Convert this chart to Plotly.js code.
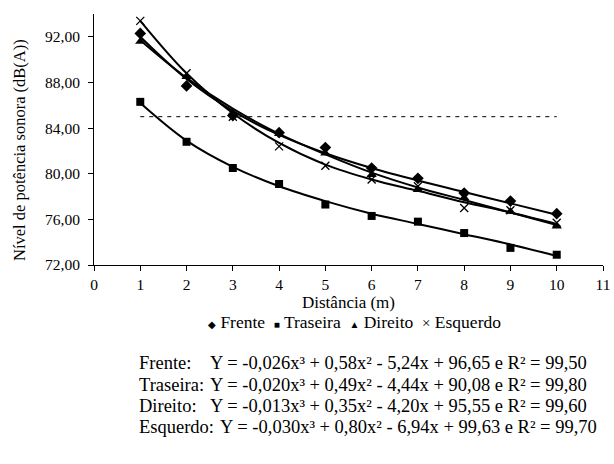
<!DOCTYPE html>
<html>
<head>
<meta charset="utf-8">
<script src="https://cdn.plot.ly/plotly-3.0.1.min.js"></script>
<style>html,body{margin:0;padding:0;background:#fff;}#chart{width:614px;height:464px;}</style>
</head>
<body>
<div id="chart"></div>
<script>
// ---- data ----
const distancia = [1, 2, 3, 4, 5, 6, 7, 8, 9, 10];
const frente   = [92.3, 87.7, 85.1, 83.6, 82.3, 80.5, 79.6, 78.3, 77.6, 76.5];
const traseira = [86.3, 82.8, 80.5, 79.1, 77.3, 76.3, 75.8, 74.8, 73.5, 72.9];
const direito  = [91.6, 88.5, 85.3, 83.5, 81.8, 79.9, 78.6, 77.9, 76.7, 75.4];
const esquerdo = [93.4, 88.8, 85.0, 82.4, 80.7, 79.5, 78.9, 77.0, 76.8, 75.7];
// fitted curves
const frenteAjuste   = [92.0, 88.3, 85.5, 83.4, 81.8, 80.5, 79.4, 78.4, 77.4, 76.4];
const traseiraAjuste = [86.2, 82.9, 80.6, 78.9, 77.6, 76.5, 75.6, 74.7, 73.8, 72.8];
const direitoAjuste  = [91.7, 88.4, 85.7, 83.5, 81.7, 80.1, 78.8, 77.7, 76.6, 75.5];
const esquerdoAjuste = [93.4, 88.8, 85.3, 82.7, 80.8, 79.5, 78.5, 77.5, 76.6, 75.6];
// reference limit line
const limiteX = [1, 10];
const limiteY = [85, 85];

const nomes = ["Frente", "Traseira", "Direito", "Esquerdo"];
const simbolosLegenda = ["◆", "■", "▲", "×"];
const equacoesRotulos = ["Frente:", "Traseira:", "Direito:", "Esquerdo:"];
const equacoes = [
  "Y = -0,026x³ + 0,58x² - 5,24x + 96,65 e R² = 99,50",
  "Y = -0,020x³ + 0,49x² - 4,44x + 90,08 e R² = 99,80",
  "Y = -0,013x³ + 0,35x² - 4,20x + 95,55 e R² = 99,60",
  "Y = -0,030x³ + 0,80x² - 6,94x + 99,63 e R² = 99,70"
];
const tituloX = "Distância (m)";
const tituloY = "Nível de potência sonora (dB(A))";

// ---- styling ----
const FONT = "'Liberation Serif', 'Times New Roman', Times, serif";
const W = 614, H = 464;
const L = 94, R = 11, T = 14, B = 199;
const pw = W - L - R, ph = H - T - B;
const px = v => (v - L) / pw;
const py = v => (H - B - v) / ph;

const obs = [frente, traseira, direito, esquerdo];
const fits = [frenteAjuste, traseiraAjuste, direitoAjuste, esquerdoAjuste];
const symbols = ["diamond", "square", "triangle-up", "x-thin"];
const sizes = [9, 8, 9, 8];

const traces = [];
traces.push({
  x: limiteX, y: limiteY, mode: "lines", showlegend: false, hoverinfo: "skip",
  line: {color: "#000", width: 1, dash: "4px,5px"}
});
fits.forEach((f, i) => {
  traces.push({
    x: distancia, y: f, mode: "lines", showlegend: false, hoverinfo: "skip",
    line: {color: "#000", width: 2, shape: "spline", smoothing: 1}
  });
});
obs.forEach((o, i) => {
  traces.push({
    x: distancia, y: o, mode: "markers", name: nomes[i], showlegend: false,
    marker: {
      symbol: symbols[i], size: sizes[i], color: "#000",
      line: {color: "#000", width: symbols[i] === "x-thin" ? 1.3 : 0}
    }
  });
});

const annotations = [];
// y-axis title
annotations.push({
  xref: "paper", yref: "paper", x: px(19), y: py(150),
  xanchor: "center", yanchor: "middle", showarrow: false, textangle: -90,
  text: tituloY, font: {family: FONT, size: 16.5, color: "#000"}
});
// legend line (symbol glyphs + series names)
const symSize = [10, 10, 10, 15];
const legendText = nomes.map((n, i) =>
  "<span style='font-size:" + symSize[i] + "px'>" + simbolosLegenda[i] + "</span> " + n
).join("&nbsp;&nbsp;");
annotations.push({
  xref: "paper", yref: "paper", x: px(354), y: py(322),
  xanchor: "center", yanchor: "middle", showarrow: false,
  text: legendText, font: {family: FONT, size: 17.5, color: "#000"}
});
const rowsY = [363, 385, 406, 427];
rowsY.forEach((yy, i) => {
  annotations.push({
    xref: "paper", yref: "paper", x: px(137), y: py(yy),
    xanchor: "left", yanchor: "middle", showarrow: false,
    text: equacoesRotulos[i], font: {family: FONT, size: 18.5, color: "#000"}
  });
  annotations.push({
    xref: "paper", yref: "paper", x: px(i === 3 ? 218 : 208), y: py(yy),
    xanchor: "left", yanchor: "middle", showarrow: false,
    text: equacoes[i], font: {family: FONT, size: 18.5, color: "#000"}
  });
});

const layout = {
  width: W, height: H,
  margin: {l: L, r: R, t: T, b: B, pad: 0},
  paper_bgcolor: "#fff", plot_bgcolor: "#fff",
  font: {family: FONT, size: 15.5, color: "#000"},
  separators: ",.",
  showlegend: false,
  xaxis: {
    range: [0, 11], dtick: 1, tick0: 0, showgrid: false, zeroline: false,
    showline: true, linecolor: "#000", linewidth: 1,
    ticks: "outside", ticklen: 5, tickcolor: "#000", tickwidth: 1,
    tickfont: {family: FONT, size: 15.5, color: "#000"},
    title: {text: tituloX, font: {family: FONT, size: 17, color: "#000"}, standoff: 4}
  },
  yaxis: {
    range: [72, 94], dtick: 4, tick0: 72, tickformat: ".2f",
    showgrid: false, zeroline: false,
    showline: true, linecolor: "#000", linewidth: 1,
    ticks: "outside", ticklen: 5, tickcolor: "#000", tickwidth: 1,
    ticklabelstandoff: 5,
    tickfont: {family: FONT, size: 15.5, color: "#000"}
  },
  annotations: annotations
};

Plotly.newPlot("chart", traces, layout, {displayModeBar: false, staticPlot: true});
</script>
</body>
</html>
